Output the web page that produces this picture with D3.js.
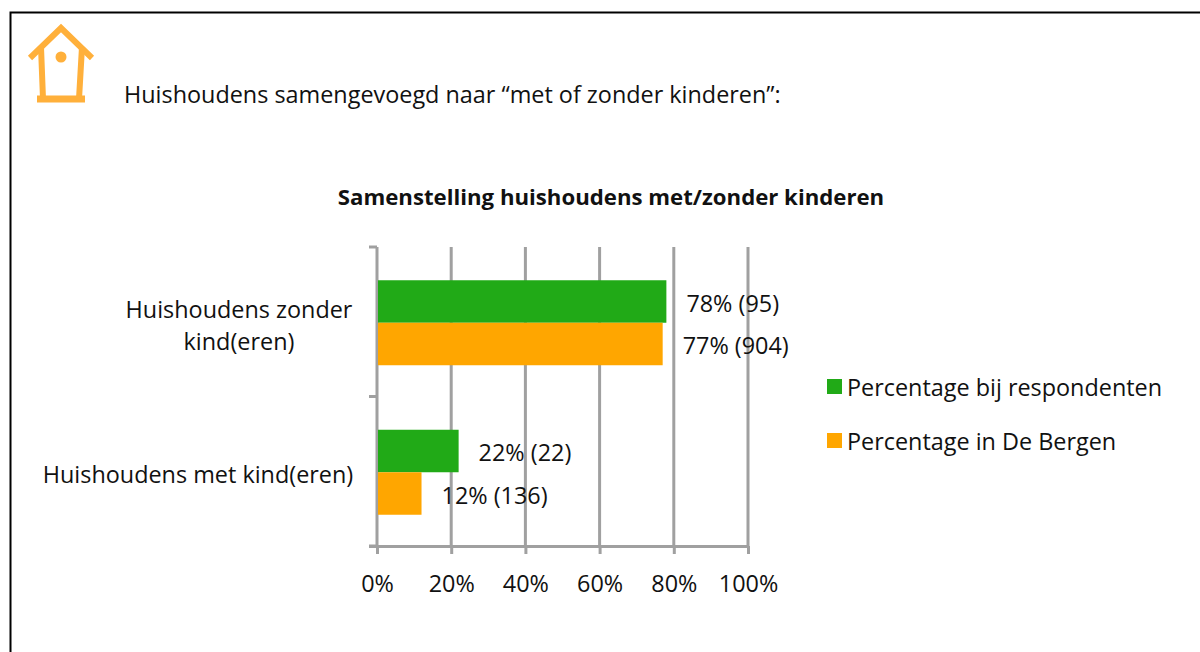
<!DOCTYPE html>
<html>
<head>
<meta charset="utf-8">
<script src="https://cdn.jsdelivr.net/npm/d3@7"></script>
<style>
  html, body { margin: 0; padding: 0; background: #fff; }
  text { font-family: "Open Sans", sans-serif; fill: #111; }
</style>
</head>
<body>
<svg id="chart" width="1200" height="652"></svg>
<script>
// Chart values
const categories = ["Huishoudens zonder kind(eren)", "Huishoudens met kind(eren)"];
const seriesNames = ["Percentage bij respondenten", "Percentage in De Bergen"];
const respondenten = [78, 22];
const deBergen = [77, 12];
const respondentenCounts = [95, 22];
const deBergenCounts = [904, 136];
const xTicks = [0, 20, 40, 60, 80, 100];
const colors = ["#21aa17", "#ffa600"];

const svg = d3.select("#chart");
const fontSize = 23.4;
const gridColor = "#a0a0a0";

// Page frame
svg.append("path")
    .attr("d", "M10.5,652V12.5H1200")
    .attr("fill", "none")
    .attr("stroke", "#000")
    .attr("stroke-width", 2);

// Birdhouse icon
const icon = svg.append("g")
    .attr("transform", "translate(27,23)")
    .attr("fill", "none")
    .attr("stroke", "#ffb03b")
    .attr("stroke-width", 6);
icon.append("path").attr("d", "M3,35L34,5L65,35");
icon.append("path").attr("d", "M14,24L16,76M55,24L52,76");
icon.append("path").attr("d", "M10,76H58").attr("stroke-width", 7);
icon.append("circle").attr("cx", 34).attr("cy", 34).attr("r", 5.5)
    .attr("fill", "#ffb03b").attr("stroke", "none");

// Headings
svg.append("text")
    .attr("x", 124).attr("y", 103)
    .attr("font-size", fontSize)
    .text("Huishoudens samengevoegd naar “met of zonder kinderen”:");

svg.append("text")
    .attr("x", 611).attr("y", 205)
    .attr("text-anchor", "middle")
    .attr("font-size", 22.2)
    .attr("font-weight", "bold")
    .text("Samenstelling huishoudens met/zonder kinderen");

// Scales
const x = d3.scaleLinear().domain([0, 100]).range([377, 748]);
const y = d3.scaleBand().domain(categories).range([247, 546]);
const inner = d3.scaleBand().domain(seriesNames).range([0, 85]);
const barOffset = (y.bandwidth() - 85) / 2 + 1;

// Axes
const xAxis = d3.axisBottom(x)
    .tickValues(xTicks)
    .tickFormat(d => d + "%")
    .tickSize(8)
    .tickSizeOuter(0);
const gx = svg.append("g")
    .attr("transform", "translate(0,546)")
    .call(xAxis);
gx.select(".domain").attr("stroke", gridColor).attr("stroke-width", 3)
    .attr("d", "M369,0.5H748");
gx.selectAll(".tick line").attr("stroke", gridColor).attr("stroke-width", 3);
gx.selectAll(".tick text")
    .attr("font-size", fontSize)
    .attr("y", 29)
    .attr("dy", "0.71em")
    .attr("fill", "#111")
    .attr("font-family", "'Open Sans', sans-serif");

// Gridlines and y axis
svg.append("g").selectAll("line")
    .data(xTicks)
    .join("line")
    .attr("x1", d => x(d)).attr("x2", d => x(d))
    .attr("y1", 247).attr("y2", 546)
    .attr("stroke", gridColor)
    .attr("stroke-width", 3);

svg.append("g").selectAll("line")
    .data([y.range()[0], y.range()[0] + y.step(), y.range()[1]])
    .join("line")
    .attr("x1", 369).attr("x2", 377)
    .attr("y1", d => d).attr("y2", d => d)
    .attr("stroke", gridColor)
    .attr("stroke-width", 3);

// Bars and value labels
const rows = [];
categories.forEach((c, i) => {
    rows.push({cat: c, name: seriesNames[0], value: respondenten[i], count: respondentenCounts[i], color: colors[0]});
    rows.push({cat: c, name: seriesNames[1], value: deBergen[i], count: deBergenCounts[i], color: colors[1]});
});

svg.append("g").selectAll("rect")
    .data(rows)
    .join("rect")
    .attr("x", x(0) + 1)
    .attr("y", d => y(d.cat) + barOffset + inner(d.name))
    .attr("width", d => x(d.value) - x(0) - 1)
    .attr("height", inner.bandwidth())
    .attr("fill", d => d.color);

svg.append("g").selectAll("text")
    .data(rows)
    .join("text")
    .attr("x", d => x(d.value) + 20)
    .attr("y", d => y(d.cat) + barOffset + inner(d.name) + inner.bandwidth() / 2 + 2)
    .attr("dy", "0.35em")
    .attr("font-size", fontSize)
    .text(d => `${d.value}% (${d.count})`);

// Category labels
const catLabels = [["Huishoudens zonder", "kind(eren)"], ["Huishoudens met kind(eren)"]];
const catText = svg.append("g").selectAll("text")
    .data(catLabels)
    .join("text")
    .attr("font-size", fontSize)
    .attr("text-anchor", "middle");
catText.selectAll("tspan")
    .data((d, i) => d.map((t, j) => ({t, j, i})))
    .join("tspan")
    .attr("x", d => d.i === 0 ? 239 : 198)
    .attr("y", d => d.i === 0 ? 318 + d.j * 32 : 483)
    .text(d => d.t);

// Legend
const legend = svg.append("g").selectAll("g")
    .data(seriesNames)
    .join("g")
    .attr("transform", (d, i) => `translate(827,${379 + i * 54})`);
legend.append("rect")
    .attr("width", 15).attr("height", 15)
    .attr("fill", (d, i) => colors[i]);
legend.append("text")
    .attr("x", 20).attr("y", 17)
    .attr("font-size", fontSize)
    .text(d => d);
</script>
</body>
</html>
